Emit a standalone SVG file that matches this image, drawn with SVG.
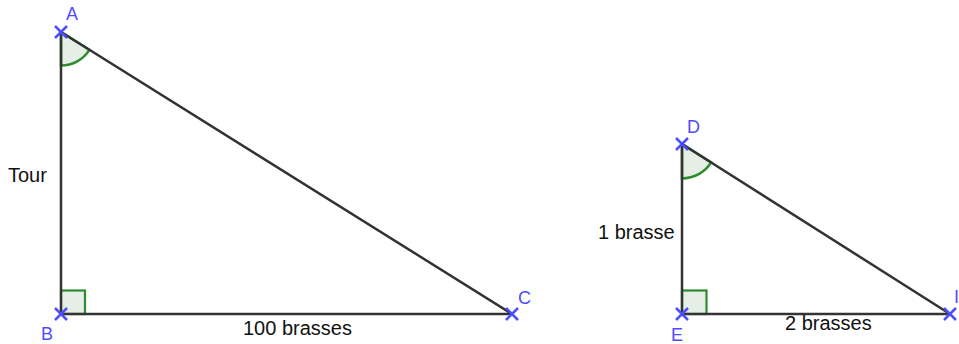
<svg xmlns="http://www.w3.org/2000/svg" width="959" height="344" viewBox="0 0 959 344">
<style>
.seg{stroke:#333;stroke-width:2.5;fill:none;stroke-linecap:round}
.ang{fill:#006400;fill-opacity:0.1;stroke:#2e8b2e;stroke-width:2.5}
.rt{fill:#006400;fill-opacity:0.1;stroke:#2e8b2e;stroke-width:2.2}
.pt{stroke:#4d4dff;stroke-width:2.5;fill:none}
.pl{font-family:"Liberation Sans",Arial,sans-serif;font-size:18px;fill:#4d4dff}
.tl{font-family:"Liberation Sans",Arial,sans-serif;font-size:20px;fill:#111}
</style>
<rect width="959" height="344" fill="#fff"/>
<g id="angles">
<path class="ang" d="M61,32 L61,65.5 A33.5,33.5 0 0 0 89.4,49.8 Z"/>
<rect class="rt" x="61" y="290.5" width="24" height="23.5"/>
<path class="ang" d="M682,144 L682,178.5 A34.5,34.5 0 0 0 711.2,162.4 Z"/>
<rect class="rt" x="682" y="290.5" width="24.5" height="23.5"/>
</g>
<g id="connectors">
<line class="seg" x1="61" y1="32" x2="61" y2="314"/>
<line class="seg" x1="61" y1="314" x2="512" y2="314"/>
<line class="seg" x1="61" y1="32" x2="512" y2="314"/>
<line class="seg" x1="682" y1="144" x2="682" y2="314"/>
<line class="seg" x1="682" y1="314" x2="950" y2="314"/>
<line class="seg" x1="682" y1="144" x2="950" y2="314"/>
</g>
<g id="A"><path class="pt" d="M55,26 L67,38 M55,38 L67,26"/><text class="pl" x="66" y="20">A</text></g>
<g id="B"><path class="pt" d="M55,308 L67,320 M55,320 L67,308"/><text class="pl" x="41" y="340">B</text></g>
<g id="C"><path class="pt" d="M506,308 L518,320 M506,320 L518,308"/><text class="pl" x="518" y="304">C</text></g>
<g id="D"><path class="pt" d="M676,138 L688,150 M676,150 L688,138"/><text class="pl" x="687" y="133">D</text></g>
<g id="E"><path class="pt" d="M676,308 L688,320 M676,320 L688,308"/><text class="pl" x="671" y="341">E</text></g>
<g id="I"><path class="pt" d="M944,308 L956,320 M944,320 L956,308"/><text class="pl" x="954" y="303">I</text></g>
<g id="labels">
<text class="tl" x="8" y="182">Tour</text>
<text class="tl" x="243" y="335">100 brasses</text>
<text class="tl" x="598" y="239">1 brasse</text>
<text class="tl" x="785" y="330">2 brasses</text>
</g>
</svg>
